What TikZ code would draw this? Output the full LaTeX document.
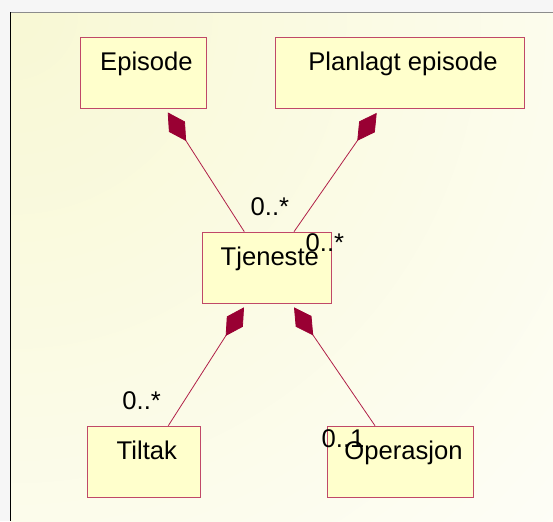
\documentclass[tikz,border=0pt]{standalone}
\usepackage{fontspec}
\setmainfont{Liberation Sans}
\usetikzlibrary{arrows.meta,calc}

\definecolor{paper}{RGB}{246,246,246}
\definecolor{sheet}{RGB}{248,248,212}
\definecolor{classfill}{RGB}{255,255,204}
\definecolor{classline}{RGB}{192,72,104}
\definecolor{assocline}{RGB}{176,32,72}
\definecolor{diamondfill}{RGB}{153,0,51}

\tikzset{
  classbox/.style={draw=classline, fill=classfill, line width=0.9pt,
    rectangle, anchor=north west, inner sep=0pt,
    text height=33pt, text depth=38pt,
    font=\fontsize{25.6}{30}\selectfont},
  composition/.style={draw=assocline, line width=0.8pt,
    {Diamond[length=34pt,width=19pt,color=diamondfill,fill=diamondfill]}-},
  mult/.style={anchor=base west, inner sep=0pt,
    font=\fontsize{25.6}{30}\selectfont}
}

\begin{document}
\begin{tikzpicture}[x=1pt,y=-1pt]
  \useasboundingbox (0,0) rectangle (553,521);

  % sheet with shaded background and frame
  \fill[paper] (0,0) rectangle (553,521);
  \begin{scope}
    \clip (10.5,12.7) rectangle (553,521);
    \fill[white] (10.5,12.7) rectangle (553,521);
    \shade[inner color=sheet, outer color=white] (10.5,12.7) circle (940);
  \end{scope}
  \draw[gray!90, line width=1.3pt] (10,12.7) -- (553,12.7);
  \draw[black, line width=1.5pt] (10.5,12.2) -- (10.5,521);

  % classes
  \node[classbox, minimum width=126pt] (ep) at (80,37) {\hspace*{6pt}Episode};
  \node[classbox, minimum width=249pt] (pl) at (275,37) {\hspace*{6pt}Planlagt episode};
  \node[classbox, minimum width=128.7pt] (tj) at (202,231.7) {\hspace*{6pt}Tjeneste};
  \node[classbox, minimum width=113.3pt] (ti) at (86.7,425.7) {\hspace*{6pt}Tiltak};
  \node[classbox, minimum width=146.6pt] (op) at (326.7,425.7) {\hspace*{6pt}Operasjon};

  % ends of the compositions
  \coordinate (ep-end) at ($(ep.south)+(24.3,3.5)$);
  \coordinate (pl-end) at ($(pl.south west)+(101.7,4)$);
  \coordinate (tj-up1) at ($(tj.north west)+(42.3,0)$);
  \coordinate (tj-up2) at ($(tj.north west)+(92,0)$);
  \coordinate (tj-dn1) at ($(tj.south west)+(42,3.7)$);
  \coordinate (tj-dn2) at ($(tj.south west)+(92,3.7)$);
  \coordinate (ti-top) at ($(ti.north west)+(81.6,0)$);
  \coordinate (op-top) at ($(op.north west)+(48.3,0)$);

  % compositions
  \draw[composition] (ep-end) -- (tj-up1);
  \draw[composition] (pl-end) -- (tj-up2);
  \draw[composition] (tj-dn1) -- (ti-top);
  \draw[composition] (tj-dn2) -- (op-top);

  % multiplicities
  \node[mult] (m1) at (250.5,215.7) {0..*};
  \node[mult] (m2) at (305.5,251.7) {0..*};
  \node[mult] (m3) at (122.2,409.3) {0..*};
  \node[mult] (m4) at (321.5,447.7) {0..1};
\end{tikzpicture}
\end{document}
